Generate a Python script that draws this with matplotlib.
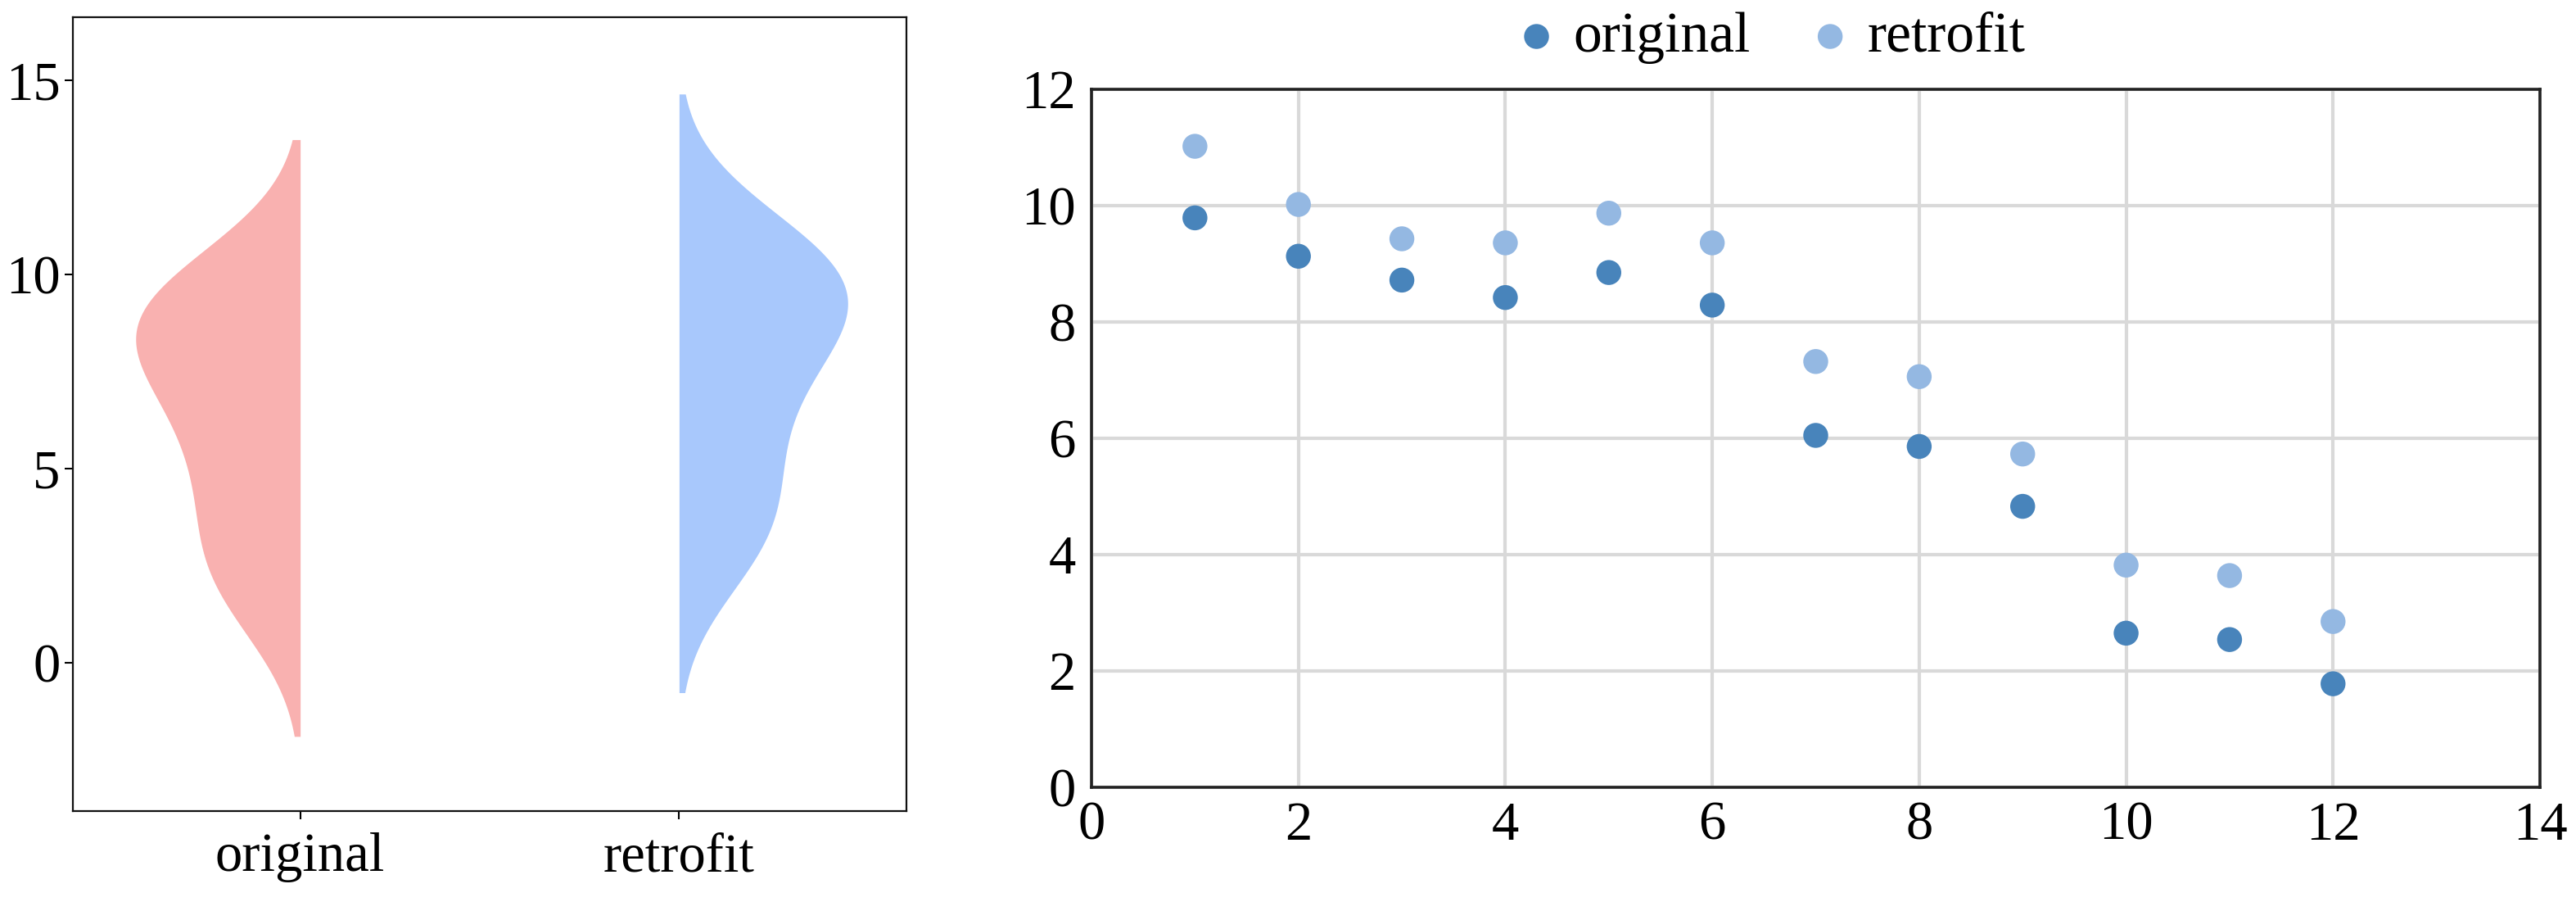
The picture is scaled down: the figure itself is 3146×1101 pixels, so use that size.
import numpy as np
import matplotlib
matplotlib.use("Agg")
import matplotlib.pyplot as plt

plt.rcParams['font.family'] = ['Liberation Serif', 'DejaVu Serif']

# ---- data ----
index = [1, 2, 3, 4, 5, 6, 7, 8, 9, 10, 11, 12]
original = [9.79, 9.13, 8.72, 8.42, 8.85, 8.29, 6.05, 5.86, 4.83, 2.65, 2.54, 1.78]
retrofit = [11.02, 10.02, 9.43, 9.36, 9.87, 9.36, 7.32, 7.06, 5.73, 3.82, 3.64, 2.85]
groups = ["original", "retrofit"]

violin_colors = ["#f9b1b0", "#a8c8fc"]
scatter_colors = ["#4884bb", "#94b8e2"]


def kde(data, bw_factor=1.05, cut=2, n_grid=400):
    d = np.asarray(data, dtype=float)
    n = len(d)
    bw = d.std(ddof=1) * n ** (-0.2) * bw_factor
    grid = np.linspace(d.min() - cut * bw, d.max() + cut * bw, n_grid)
    dens = np.exp(-0.5 * ((grid[:, None] - d[None, :]) / bw) ** 2).sum(1) / (n * bw * np.sqrt(2 * np.pi))
    return grid, dens


fig = plt.figure(figsize=(31.46, 11.01), dpi=100)

# ---- left: split violins ----
ax1 = fig.add_axes([89 / 3146, 1 - 990 / 1101, (1107 - 89) / 3146, (990 - 21) / 1101])
kdes = [kde(original), kde(retrofit)]
peak = max(k[1].max() for k in kdes)
half_width = 0.445
for i, ((grid, dens), col) in enumerate(zip(kdes, violin_colors)):
    w = dens / peak * half_width
    if i == 0:
        ax1.fill_betweenx(grid, i - w, i, color=col, lw=0)
    else:
        ax1.fill_betweenx(grid, i, i + w, color=col, lw=0)
ax1.set_xlim(-0.6, 1.6)
ax1.set_ylim(-3.82, 16.62)
ax1.set_xticks([0, 1])
ax1.set_xticklabels(groups)
ax1.set_yticks([0, 5, 10, 15])
ax1.tick_params(axis='both', labelsize=48, length=7, width=1.5, direction='out')
ax1.tick_params(axis='x', pad=12)
ax1.tick_params(axis='y', pad=4)
for s in ax1.spines.values():
    s.set_linewidth(1.6)
    s.set_color('#111111')

# ---- right: scatter ----
ax2 = fig.add_axes([1333 / 3146, 1 - 961 / 1101, (3102 - 1333) / 3146, (961 - 109) / 1101])
ax2.set_axisbelow(True)
ax2.grid(True, color='#d9d9d9', lw=3)
ax2.scatter(index, original, s=480, color=scatter_colors[0], edgecolors='none', label='original', zorder=3)
ax2.scatter(index, retrofit, s=480, color=scatter_colors[1], edgecolors='none', label='retrofit', zorder=3)
ax2.set_xlim(0, 14)
ax2.set_ylim(0, 12)
ax2.set_xticks(range(0, 15, 2))
ax2.set_yticks(range(0, 13, 2))
ax2.tick_params(axis='both', labelsize=48, length=0)
ax2.tick_params(axis='x', pad=12)
ax2.tick_params(axis='y', pad=14)
for s in ax2.spines.values():
    s.set_linewidth(2.6)
    s.set_color('#222222')
ax2.legend(loc='center', bbox_to_anchor=(0.47, 1.074), ncol=2, frameon=False,
           fontsize=50, handlelength=0.6, handletextpad=0.35, columnspacing=1.1,
           borderaxespad=0)

fig.savefig("out.png", dpi=100)
